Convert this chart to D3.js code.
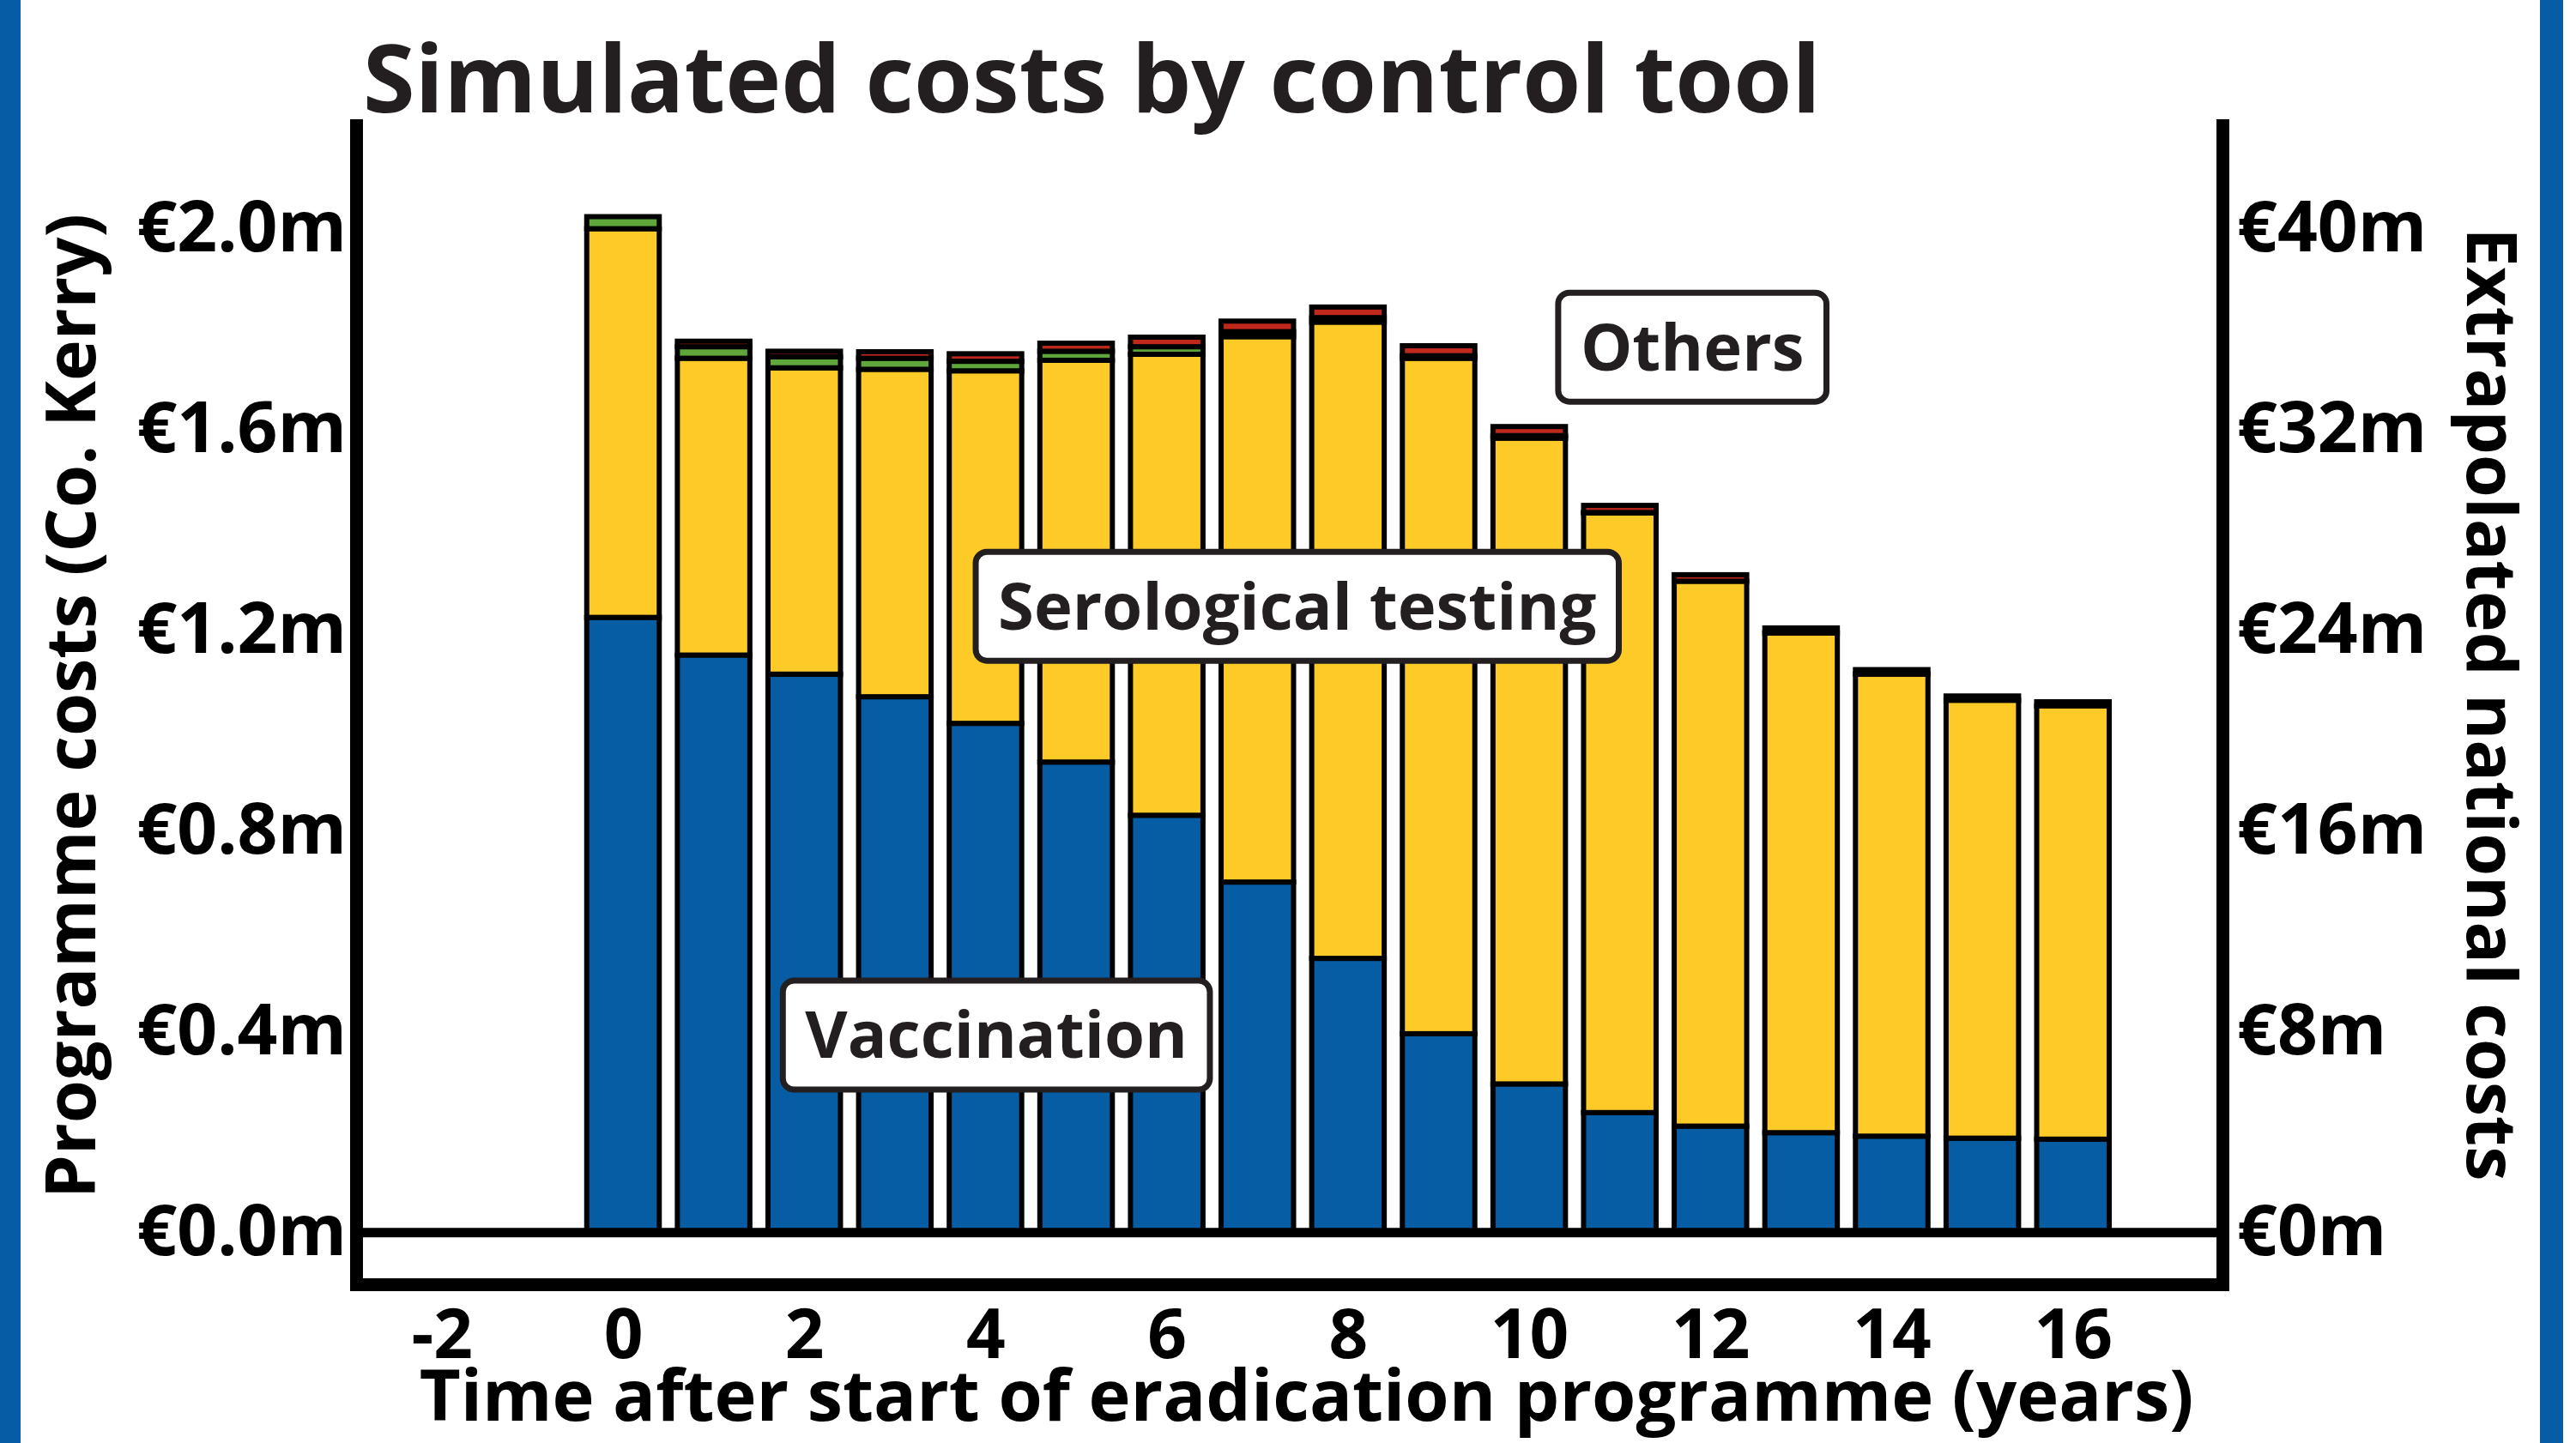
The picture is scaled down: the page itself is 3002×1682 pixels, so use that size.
<!DOCTYPE html>
<html>
<head>
<meta charset="utf-8">
<script src="https://cdn.jsdelivr.net/npm/d3@7"></script>
<style>
  body { margin: 0; background: #fff; }
  svg { display: block; font-family: "Comic Sans MS", "Open Sans", sans-serif; font-weight: 700; }
</style>
</head>
<body>
<div id="container"></div>
<script>

// Years after start of the programme
var years = [0, 1, 2, 3, 4, 5, 6, 7, 8, 9, 10, 11, 12, 13, 14, 15, 16];

// Costs in million euro (Co. Kerry)
var vaccination = [1.225, 1.150, 1.112, 1.067, 1.014, 0.937, 0.831, 0.698, 0.546, 0.396, 0.296, 0.239, 0.212, 0.199, 0.192, 0.188, 0.186];
var serology    = [0.774, 0.591, 0.610, 0.652, 0.702, 0.800, 0.918, 1.086, 1.267, 1.345, 1.286, 1.194, 1.085, 0.995, 0.920, 0.872, 0.863];
var othersGreen = [0.024, 0.023, 0.022, 0.022, 0.019, 0.018, 0.015, 0.010, 0.009, 0.005, 0.005, 0.001, 0, 0, 0, 0, 0];
var othersRed   = [0, 0.011, 0.011, 0.013, 0.015, 0.016, 0.019, 0.021, 0.021, 0.020, 0.018, 0.014, 0.013, 0.010, 0.009, 0.0085, 0.008];

// Axis ticks
var xTicks = [-2, 0, 2, 4, 6, 8, 10, 12, 14, 16];
var leftTicks = [0, 0.4, 0.8, 1.2, 1.6, 2.0];
var rightTicks = [0, 8, 16, 24, 32, 40];
var nationalFactor = 20;

var keys = ["vaccination", "serology", "othersGreen", "othersRed"];
var colors = {
  vaccination: "#065da4",
  serology: "#fdca28",
  othersGreen: "#5fa73b",
  othersRed: "#c0281c"
};

// Labels placed inside the plot (year, value, text)
var labels = [
  { x: 4.12, y: 0.394, text: "Vaccination" },
  { x: 7.44, y: 1.248, text: "Serological testing" },
  { x: 11.8, y: 1.764, text: "Others" }
];

drawChart();

function drawChart() {

  var width = 3002,
      height = 1682;

  var svg = d3.select("#container")
    .append("svg")
      .attr("width", width)
      .attr("height", height);

  svg.append("rect")
    .attr("width", width)
    .attr("height", height)
    .attr("fill", "#fff");

  // Blue page edges
  svg.append("rect").attr("x", 0).attr("y", 0).attr("width", 24).attr("height", height).attr("fill", "#065da6");
  svg.append("rect").attr("x", 2960).attr("y", 0).attr("width", 27).attr("height", height).attr("fill", "#065da6");

  var plotLeft = 415, plotRight = 2590, plotTop = 146, plotBottom = 1497;

  var x = d3.scaleLinear()
    .domain([-2.945, 17.65])
    .range([plotLeft, plotRight]);

  var y = d3.scaleLinear()
    .domain([-0.103, 2.205])
    .range([plotBottom, plotTop]);

  var yRight = d3.scaleLinear()
    .domain(y.domain().map(function(d) { return d * nationalFactor; }))
    .range([plotBottom, plotTop]);

  // Build stacked table
  var table = years.map(function(t, i) {
    return {
      year: t,
      vaccination: vaccination[i],
      serology: serology[i],
      othersGreen: othersGreen[i],
      othersRed: othersRed[i]
    };
  });

  var series = d3.stack().keys(keys)(table);
  var barWidth = x(0.8) - x(0);

  svg.append("g")
    .selectAll("g")
    .data(series)
    .enter()
    .append("g")
      .attr("fill", function(d) { return colors[d.key]; })
    .selectAll("rect")
    .data(function(d) { return d; })
    .enter()
    .append("rect")
      .attr("x", function(d) { return x(d.data.year) - barWidth / 2; })
      .attr("y", function(d) { return y(d[1]); })
      .attr("width", barWidth)
      .attr("height", function(d) { return y(d[0]) - y(d[1]); })
      .attr("stroke", "#000")
      .attr("stroke-width", 6);

  // Zero line
  svg.append("line")
    .attr("x1", plotLeft)
    .attr("x2", plotRight)
    .attr("y1", y(0))
    .attr("y2", y(0))
    .attr("stroke", "#000")
    .attr("stroke-width", 11);

  // Axes
  var leftAxis = svg.append("g")
    .attr("transform", "translate(" + plotLeft + ",0)")
    .call(d3.axisLeft(y)
      .tickValues(leftTicks)
      .tickSize(0)
      .tickPadding(11)
      .tickFormat(function(d) { return "€" + d.toFixed(1) + "m"; }));

  var rightAxis = svg.append("g")
    .attr("transform", "translate(" + plotRight + ",0)")
    .call(d3.axisRight(yRight)
      .tickValues(rightTicks)
      .tickSize(0)
      .tickPadding(17)
      .tickFormat(function(d) { return "€" + d + "m"; }));

  var bottomAxis = svg.append("g")
    .attr("transform", "translate(0," + plotBottom + ")")
    .call(d3.axisBottom(x)
      .tickValues(xTicks)
      .tickSize(0)
      .tickFormat(function(d) { return d; }));

  [leftAxis, rightAxis, bottomAxis].forEach(function(g) {
    g.attr("font-family", null).attr("font-size", null);
    g.select(".domain")
      .attr("stroke", "#000")
      .attr("stroke-width", 15)
      .attr("stroke-linecap", "square");
    g.selectAll("text")
      .attr("fill", "#000")
      .style("font-size", "82px");
  });

  bottomAxis.selectAll("text")
    .attr("dy", "0")
    .attr("y", 86)
    .style("font-size", "80px");

  // Annotation boxes
  labels.forEach(function(l) {
    var g = svg.append("g")
      .attr("transform", "translate(" + x(l.x) + "," + y(l.y) + ")");
    var t = g.append("text")
      .attr("text-anchor", "middle")
      .attr("dy", "0.36em")
      .attr("fill", "#231f20")
      .style("font-size", "76px")
      .text(l.text);
    var bb = t.node().getBBox();
    g.insert("rect", "text")
      .attr("x", bb.x - 26)
      .attr("y", -63)
      .attr("width", bb.width + 52)
      .attr("height", 127)
      .attr("rx", 13)
      .attr("fill", "#fff")
      .attr("stroke", "#231f20")
      .attr("stroke-width", 7);
  });

  // Title
  svg.append("text")
    .attr("x", 423)
    .attr("y", 131)
    .attr("fill", "#231f20")
    .style("font-size", "110px")
    .text("Simulated costs by control tool");

  // Axis titles
  svg.append("text")
    .attr("x", (plotLeft + plotRight) / 2 + 20)
    .attr("y", 1656)
    .attr("text-anchor", "middle")
    .attr("fill", "#000")
    .style("font-size", "83px")
    .text("Time after start of eradication programme (years)");

  svg.append("text")
    .attr("transform", "translate(111,823) rotate(-90)")
    .attr("text-anchor", "middle")
    .attr("fill", "#000")
    .style("font-size", "81px")
    .text("Programme costs (Co. Kerry)");

  svg.append("text")
    .attr("transform", "translate(2875,821) rotate(90)")
    .attr("text-anchor", "middle")
    .attr("fill", "#000")
    .style("font-size", "81px")
    .text("Extrapolated national costs");
}

</script>
</body>
</html>
